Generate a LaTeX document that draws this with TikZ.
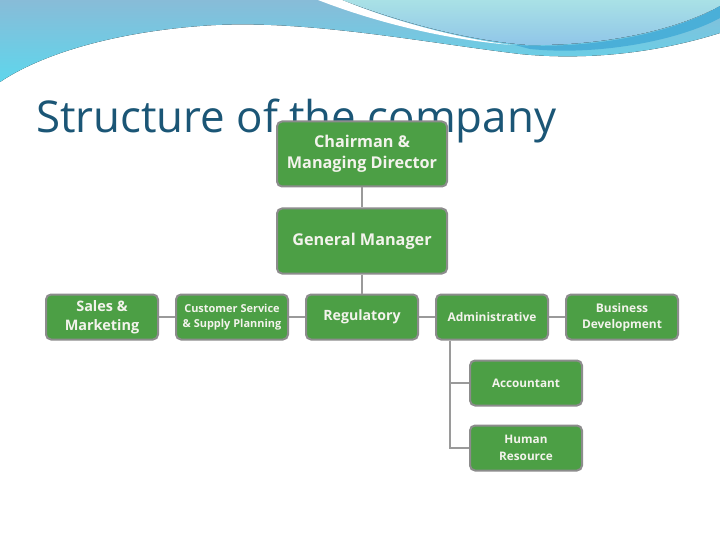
\documentclass[tikz,border=0pt]{standalone}
\usepackage{fontspec}
\setmainfont{Open Sans}
\usetikzlibrary{positioning}

\definecolor{boxgreen}{HTML}{4C9F45}
\definecolor{boxrim}{HTML}{8C8C8C}
\definecolor{linkgray}{HTML}{9A9A9A}
\definecolor{boxtext}{HTML}{F3F3EC}
\definecolor{titleblue}{HTML}{1B5676}
\definecolor{bandtop}{HTML}{88BCD8}
\definecolor{bandlow}{HTML}{5ED6EC}
\definecolor{lighttop}{HTML}{A9E1E6}
\definecolor{lightlow}{HTML}{8FC5E8}
\definecolor{stripe}{HTML}{4AAFD8}

\begin{document}
\begin{tikzpicture}[
  x=1bp, y=-1bp,
  unit/.style={
    draw=boxrim,
    line width=2bp,
    fill=boxgreen,
    rounded corners=5bp,
    text=boxtext,
    font=\bfseries,
    align=center,
    inner sep=0pt,
    minimum width=112bp,
    minimum height=45bp
  },
  big/.style={unit, minimum width=170bp, minimum height=65bp},
  link/.style={draw=linkgray, line width=1.2bp}
]

  % Slide background and top wave
  \fill[white] (0,0) rectangle (720,540);
  \useasboundingbox (0,0) rectangle (720,540);
  \fill[top color=bandtop, bottom color=bandlow]
    (0,0) -- (720,0) -- (720,33)
    .. controls (650,55) and (580,60) .. (520,54)
    .. controls (420,42) and (300,18) .. (200,26)
    .. controls (110,33) and (40,55) .. (0,82) -- cycle;
  \fill[top color=lighttop, bottom color=lightlow]
    (342,0) .. controls (400,22) and (465,40) .. (528,45)
    .. controls (610,46) and (680,28) .. (720,6) -- (720,0) -- cycle;
  \fill[white]
    (318,0) .. controls (380,24) and (450,40) .. (512,45)
    .. controls (455,38) and (390,20) .. (342,0) -- cycle;
  \fill[stripe]
    (515,45) .. controls (600,50) and (680,30) .. (720,6)
    -- (720,18) .. controls (680,40) and (600,56) .. (530,49) -- cycle;

  % Title
  \node[anchor=base west, inner sep=0pt, text=titleblue,
        font=\fontsize{44}{52}\selectfont] (title) at (36,133)
        {Structure of the company};

  % Top of the chart
  \node[big, font=\fontsize{16.3}{21}\selectfont\bfseries] (chair) at (362,154)
        {Chairman \&\\Managing Director};
  \node[big, font=\fontsize{16.3}{21}\selectfont\bfseries] (gm) at (362,241)
        {General Manager};

  % Departments
  \node[unit, font=\fontsize{14.5}{19}\selectfont\bfseries] (sales) at (102,317)
        {Sales \&\\Marketing};
  \node[unit, font=\fontsize{11}{15}\selectfont\bfseries] (care) at (232,317)
        {Customer Service\\\& Supply Planning};
  \node[unit, font=\fontsize{14.2}{17}\selectfont\bfseries] (reg) at (362,317)
        {Regulatory};
  \node[unit, font=\fontsize{12}{16}\selectfont\bfseries] (admin) at (492,317)
        {Administrative};
  \node[unit, font=\fontsize{12}{16}\selectfont\bfseries] (bizdev) at (622,317)
        {Business\\Development};

  % Under administration
  \node[unit, font=\fontsize{11.8}{17}\selectfont\bfseries] (acct) at (526,383)
        {Accountant};
  \node[unit, font=\fontsize{11.8}{17}\selectfont\bfseries] (hr) at (526,448)
        {Human\\Resource};

  % Links
  \path[link] (chair) -- (gm);
  \path[link] (gm) -- (reg);
  \path[link] (sales) -- (care);
  \path[link] (care) -- (reg);
  \path[link] (reg) -- (admin);
  \path[link] (admin) -- (bizdev);

  \coordinate (trunk) at (450,448);
  \path[link] (admin.south -| trunk) |- (hr.west);
  \path[link] (acct.west) -- (acct.west -| trunk);

\end{tikzpicture}
\end{document}
